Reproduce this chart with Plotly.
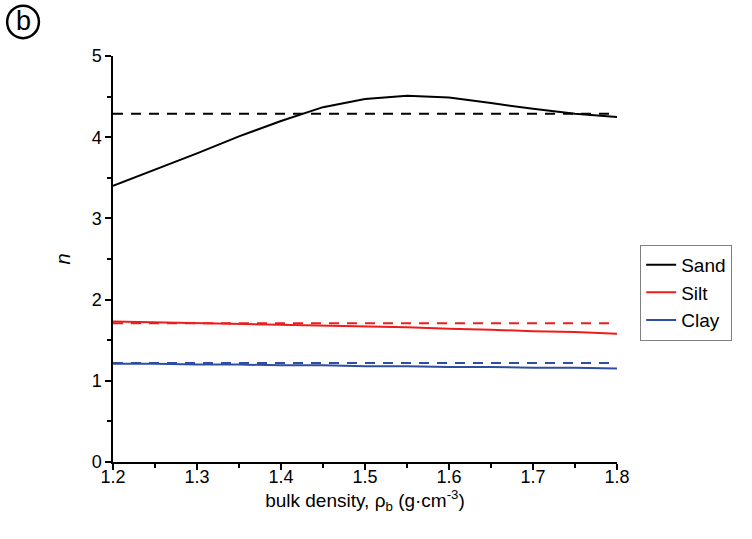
import plotly.graph_objects as go

density = [1.2, 1.25, 1.3, 1.35, 1.4, 1.45, 1.5, 1.55, 1.6, 1.65, 1.7, 1.75, 1.8]
sand_n = [3.40, 3.60, 3.80, 4.01, 4.20, 4.37, 4.47, 4.51, 4.49, 4.42, 4.35, 4.29, 4.25]
silt_n = [1.73, 1.72, 1.71, 1.70, 1.69, 1.68, 1.67, 1.66, 1.64, 1.63, 1.61, 1.60, 1.58]
clay_n = [1.21, 1.21, 1.20, 1.20, 1.19, 1.19, 1.18, 1.18, 1.17, 1.17, 1.16, 1.16, 1.15]

ref_x = [1.2, 1.811]
sand_ref = 4.29
silt_ref = 1.71
clay_ref = 1.22

names = ["Sand", "Silt", "Clay"]
colors = ["#000000", "#ee1c1c", "#2e4fa0"]
series = [sand_n, silt_n, clay_n]
refs = [sand_ref, silt_ref, clay_ref]

fig = go.Figure()
for name, col, ref in zip(names, colors, refs):
    fig.add_trace(go.Scatter(x=ref_x, y=[ref, ref], mode="lines",
                             line=dict(color=col, width=2, dash="10px,8px"),
                             showlegend=False, hoverinfo="skip"))
for name, col, ys in zip(names, colors, series):
    fig.add_trace(go.Scatter(x=density, y=ys, mode="lines", name=name,
                             line=dict(color=col, width=2)))

fig.update_layout(
    width=752, height=539,
    margin=dict(l=113, r=135, t=56, b=77),
    paper_bgcolor="white", plot_bgcolor="white",
    font=dict(family="Liberation Sans, Arial, sans-serif", size=18, color="black"),
    legend=dict(x=1.046, y=0.535, xanchor="left", yanchor="top",
                bordercolor="#808080", borderwidth=1, bgcolor="white",
                font=dict(size=19), tracegroupgap=0),
    xaxis=dict(range=[1.2, 1.8], tickvals=[1.2, 1.3, 1.4, 1.5, 1.6, 1.7, 1.8],
               ticktext=["1.2", "1.3", "1.4", "1.5", "1.6", "1.7", "1.8"],
               tickfont=dict(size=18), ticklabelstandoff=-8,
               ticks="outside", ticklen=6, tickwidth=1.5, tickcolor="black",
               minor=dict(tickvals=[1.25, 1.35, 1.45, 1.55, 1.65, 1.75], ticks="outside",
                          ticklen=4, tickwidth=1.5, tickcolor="black"),
               showline=True, linecolor="black", linewidth=1.5, showgrid=False,
               zeroline=False,
               title=dict(text="bulk density, ρ<sub>b</sub> (g·cm<sup>-3</sup>)",
                          font=dict(size=19), standoff=0)),
    yaxis=dict(range=[0, 5], tickvals=[0, 1, 2, 3, 4, 5],
               tickfont=dict(size=18),
               ticks="outside", ticklen=6, tickwidth=1.5, tickcolor="black",
               minor=dict(tickvals=[0.5, 1.5, 2.5, 3.5, 4.5], ticks="outside",
                          ticklen=4, tickwidth=1.5, tickcolor="black"),
               showline=True, linecolor="black", linewidth=1.5, showgrid=False,
               zeroline=False,
               title=dict(text="<i>n</i>", font=dict(size=20), standoff=16)),
)

fig.add_shape(type="circle", xref="paper", yref="paper",
              x0=-0.210, x1=-0.147, y0=1.044, y1=1.124,
              line=dict(color="black", width=2.5))
fig.add_annotation(text="b", xref="paper", yref="paper", x=-0.1785, y=1.086,
                   showarrow=False, font=dict(size=27, color="black"),
                   xanchor="center", yanchor="middle")

fig.write_html("out.html")
